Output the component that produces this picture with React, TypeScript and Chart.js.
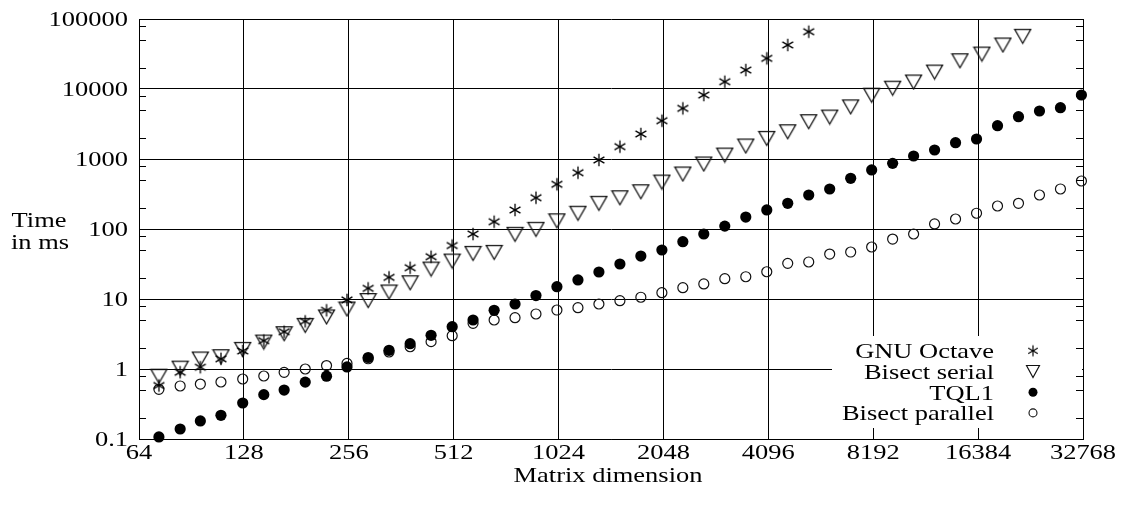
import React, { useEffect, useRef } from 'react';
import { Chart, registerables } from 'chart.js';

Chart.register(...registerables);

// Matrix dimensions (x) shared by the series
const dims = [
  73, 84, 96, 110, 127, 146, 167, 192, 221, 253,
  291, 334, 384, 441, 507, 582, 669, 768, 882, 1013,
  1164, 1337, 1536, 1764, 2027, 2328, 2674, 3072, 3529, 4054,
  4656, 5349, 6144, 7058, 8107, 9313, 10698, 12288, 14115, 16214,
  18625, 21396, 24576, 28230, 32428,
];
// last four Bisect serial measurements were taken at slightly different sizes
const serialTailDims = [14530, 16800, 19300, 22000];

const octaveMs = [
  0.58, 0.9, 1.06, 1.4, 1.81, 2.54, 3.41, 4.8, 6.9, 9.7,
  14.2, 20.4, 28, 40.2, 58, 84.8, 127, 187, 280, 435,
  637, 968, 1500, 2276, 3524, 5297, 8208, 12710, 18680, 27430,
  42530, 65860,
];
const serialMs = [
  0.79, 1.03, 1.39, 1.5, 1.91, 2.43, 3.2, 4.2, 5.55, 7.2,
  9.5, 12.6, 17.1, 26.8, 34.9, 44.9, 46.4, 84, 99, 131,
  168, 233, 280, 341, 469, 611, 849, 1140, 1534, 1974,
  2455, 3415, 3981, 5560, 8160, 10280, 12590, 17490,
  25360, 31620, 42530, 56610,
];
const tql1Ms = [
  0.107, 0.139, 0.181, 0.218, 0.327, 0.43, 0.5, 0.65, 0.79, 1.07,
  1.46, 1.85, 2.3, 3.03, 4.02, 5.01, 6.89, 8.48, 11.2, 15.0,
  18.7, 24.3, 31.6, 41.1, 50.1, 65.9, 84.8, 110, 148, 187,
  233, 306, 373, 530, 697, 867, 1104, 1345, 1710, 1931,
  2990, 4018, 4850, 5410, 8210,
];
const parallelMs = [
  0.513, 0.572, 0.61, 0.652, 0.72, 0.794, 0.896, 1.0, 1.12, 1.2,
  1.4, 1.75, 2.08, 2.46, 2.99, 4.49, 5.01, 5.41, 6.11, 6.96,
  7.51, 8.48, 9.46, 10.6, 12.3, 14.5, 16.4, 19.5, 20.8, 24.5,
  32.3, 33.8, 43.9, 46.9, 55.3, 71.9, 84.8, 118, 139, 168,
  213, 233, 306, 373, 485,
];

const xTicks = [64, 128, 256, 512, 1024, 2048, 4096, 8192, 16384, 32768];
const xTickLabels = ['64', '128', '256', '512', '1024', '2048', '4096', '8192', '16384', '32768'];
const yTicks = [0.1, 1, 10, 100, 1000, 10000, 100000];
const yTickLabels = ['0.1', '1', '10', '100', '1000', '10000', '100000'];
const yMinorMult = [2, 5, 8];
const legendLabels = ['GNU Octave', 'Bisect serial', 'TQL1', 'Bisect parallel'];
const xTitle = 'Matrix dimension';
const yTitle = ['Time', 'in ms'];

const SX = 1.26;
const FONT = '21px "Liberation Serif"';

function txt(ctx: CanvasRenderingContext2D, s: string, x: number, y: number, align: CanvasTextAlign) {
  ctx.save();
  ctx.translate(x, y);
  ctx.scale(SX, 1);
  ctx.textAlign = align;
  ctx.textBaseline = 'alphabetic';
  ctx.fillText(s, 0, 0);
  ctx.restore();
}

function makeStar(size: number, lw: number) {
  const c = document.createElement('canvas');
  const s = Math.ceil(size) + 3;
  c.width = s;
  c.height = s;
  const g = c.getContext('2d')!;
  g.strokeStyle = '#000';
  g.lineWidth = lw;
  g.lineCap = 'butt';
  const cx = s / 2, cy = s / 2, r = size / 2;
  for (const a of [90, 30, 150]) {
    const rad = (a * Math.PI) / 180;
    g.beginPath();
    g.moveTo(cx - r * Math.cos(rad), cy - r * Math.sin(rad));
    g.lineTo(cx + r * Math.cos(rad), cy + r * Math.sin(rad));
    g.stroke();
  }
  return c;
}

function makeTri(w: number, h: number, lw: number) {
  const c = document.createElement('canvas');
  c.width = Math.ceil(w + 3);
  c.height = Math.ceil(h + 3);
  const g = c.getContext('2d')!;
  g.strokeStyle = '#111';
  g.lineWidth = lw;
  g.lineJoin = 'miter';
  g.beginPath();
  g.moveTo(1.5, 1.5);
  g.lineTo(w + 1.5, 1.5);
  g.lineTo(w / 2 + 1.5, h + 1.5);
  g.closePath();
  g.stroke();
  return c;
}

export default function App() {
  const ref = useRef<HTMLCanvasElement>(null);

  useEffect(() => {
    const canvas = ref.current!;
    const star = makeStar(12.5, 1.3);
    const tri = makeTri(16, 14, 1.25);
    const starL = makeStar(11, 1.2);
    const triL = makeTri(13, 12, 1.15);

    const octavePts = octaveMs.map((y, i) => ({ x: dims[i], y }));
    const serialPts = serialMs.map((y, i) => ({ x: i < 38 ? dims[i] : serialTailDims[i - 38], y }));
    const tqlPts = tql1Ms.map((y, i) => ({ x: dims[i], y }));
    const parPts = parallelMs.map((y, i) => ({ x: dims[i], y }));

    const overlay = {
      id: 'overlay',
      afterDatasetsDraw(chart: any) {
        const { ctx, chartArea: a } = chart;
        ctx.save();
        const boxL = 832, boxT = 336;
        ctx.fillStyle = '#fff';
        ctx.fillRect(boxL, boxT, a.right - 1 - boxL, a.bottom - 11 - boxT);
        ctx.fillStyle = '#000';
        ctx.font = FONT;
        const textR = 994, mx = 1033;
        legendLabels.forEach((lab, i) => {
          const base = 358.3 + i * 20.7;
          txt(ctx, lab, textR, base, 'right');
          const my = base - 7.5;
          if (i === 0) ctx.drawImage(starL, mx - starL.width / 2, my - starL.height / 2);
          else if (i === 1) ctx.drawImage(triL, mx - triL.width / 2, my - triL.height / 2);
          else if (i === 2) {
            ctx.beginPath();
            ctx.arc(mx, my, 4.5, 0, Math.PI * 2);
            ctx.fill();
          } else {
            ctx.beginPath();
            ctx.strokeStyle = '#111';
            ctx.lineWidth = 1.1;
            ctx.arc(mx, my, 4, 0, Math.PI * 2);
            ctx.stroke();
          }
        });
        ctx.restore();
      },
      afterDraw(chart: any) {
        const { ctx, chartArea: a, scales } = chart;
        const xs = scales.x, ys = scales.y;
        ctx.save();
        ctx.strokeStyle = '#000';
        ctx.lineWidth = 1;
        for (let d = -1; d < 5; d++) {
          for (const m of yMinorMult) {
            const v = m * Math.pow(10, d);
            const y = Math.round(ys.getPixelForValue(v)) + 0.5;
            ctx.beginPath();
            ctx.moveTo(a.left, y);
            ctx.lineTo(a.left + 7, y);
            ctx.moveTo(a.right, y);
            ctx.lineTo(a.right - 7, y);
            ctx.stroke();
          }
        }
        ctx.fillStyle = '#000';
        ctx.font = FONT;
        yTicks.forEach((v, i) => txt(ctx, yTickLabels[i], a.left - 11, ys.getPixelForValue(v) + 7, 'right'));
        xTicks.forEach((v, i) => txt(ctx, xTickLabels[i], xs.getPixelForValue(v), a.bottom + 20, 'center'));
        txt(ctx, xTitle, (a.left + a.right) / 2 - 3, a.bottom + 43, 'center');
        txt(ctx, yTitle[0], 39, 227, 'center');
        txt(ctx, yTitle[1], 40, 249, 'center');
        ctx.restore();
      },
    };

    const chart = new Chart(canvas, {
      type: 'scatter',
      data: {
        datasets: [
          { label: legendLabels[0], data: octavePts, pointStyle: star as any, pointRadius: 7, clip: false as any },
          { label: legendLabels[1], data: serialPts, pointStyle: tri as any, pointRadius: 9, clip: false as any },
          {
            label: legendLabels[2], data: tqlPts, pointStyle: 'circle', pointRadius: 5.6,
            backgroundColor: '#000', borderColor: '#000', borderWidth: 0, clip: false as any,
          },
          {
            label: legendLabels[3], data: parPts, pointStyle: 'circle', pointRadius: 5,
            backgroundColor: 'rgba(0,0,0,0)', borderColor: '#111', borderWidth: 1.2, clip: false as any,
          },
        ],
      },
      options: {
        animation: false,
        responsive: false,
        devicePixelRatio: 1,
        events: [],
        layout: { padding: { top: 19, right: 38, left: 0, bottom: 0 }, autoPadding: false } as any,
        plugins: { legend: { display: false }, tooltip: { enabled: false } },
        scales: {
          x: {
            type: 'logarithmic',
            min: 64,
            max: 32768,
            afterBuildTicks: (s: any) => { s.ticks = xTicks.map((v) => ({ value: v })); },
            afterFit: (s: any) => { s.height = 68; },
            ticks: { display: false },
            grid: { color: '#000', lineWidth: 1, drawTicks: false },
            border: { color: '#000', width: 1 },
          },
          y: {
            type: 'logarithmic',
            min: 0.1,
            max: 100000,
            afterBuildTicks: (s: any) => { s.ticks = yTicks.map((v) => ({ value: v })); },
            afterFit: (s: any) => { s.width = 139; },
            ticks: { display: false },
            grid: { color: '#000', lineWidth: 1, drawTicks: false },
            border: { color: '#000', width: 1 },
          },
        },
      },
      plugins: [overlay],
    });
    return () => chart.destroy();
  }, []);

  return (
    <div style={{ position: 'absolute', left: 0, top: 0, width: 1121, height: 507, background: '#fff' }}>
      <canvas ref={ref} width={1121} height={507} style={{ display: 'block' }} />
    </div>
  );
}
